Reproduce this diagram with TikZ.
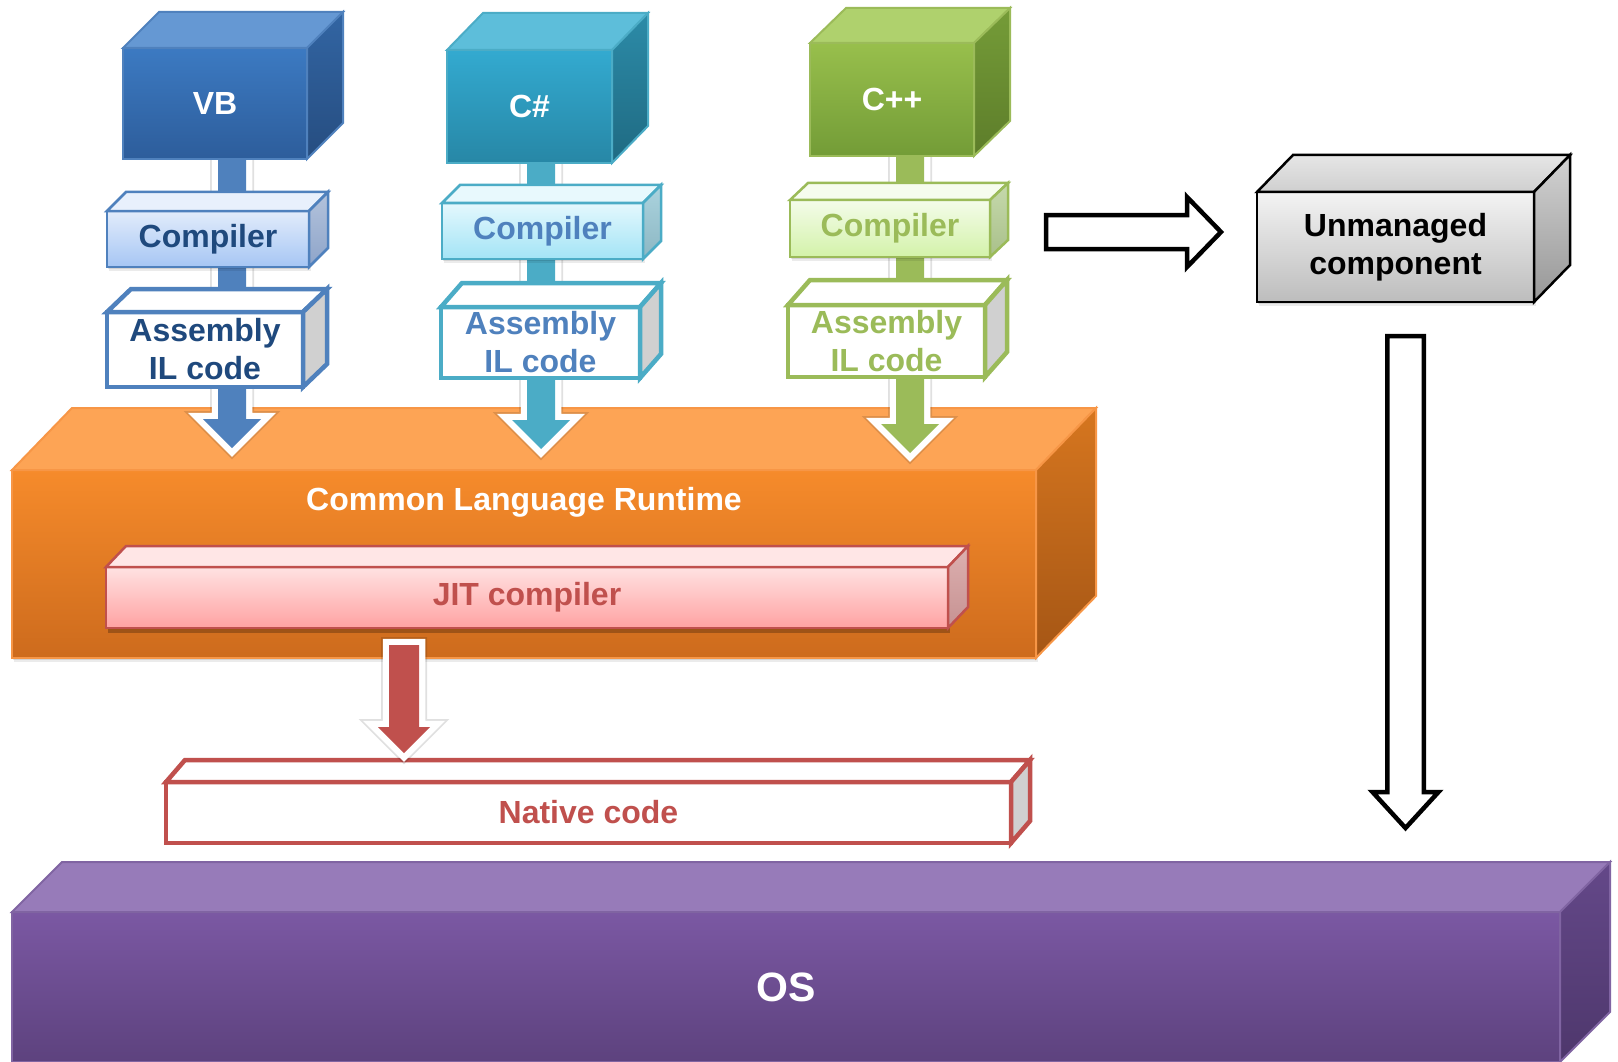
\documentclass[tikz,border=0pt]{standalone}
\usepackage{fontspec}
\setmainfont{Liberation Sans}
\usetikzlibrary{calc,shadows}

% palette
\definecolor{vbedge}{HTML}{4F81BD}\definecolor{vbtop}{HTML}{3C7AC2}\definecolor{vbbot}{HTML}{2D5D9B}
\definecolor{vbface}{HTML}{6598D3}\definecolor{vbsidea}{HTML}{3265A3}\definecolor{vbsideb}{HTML}{264D80}
\definecolor{vbtext}{HTML}{1F497D}
\definecolor{csedge}{HTML}{4BACC6}\definecolor{cstop}{HTML}{33AAD0}\definecolor{csbot}{HTML}{2787A6}
\definecolor{csface}{HTML}{5DBEDA}\definecolor{cssidea}{HTML}{2C8BA8}\definecolor{cssideb}{HTML}{1F6A82}
\definecolor{cstext}{HTML}{4F81BD}
\definecolor{cpedge}{HTML}{9BBB59}\definecolor{cptop}{HTML}{98BF4C}\definecolor{cpbot}{HTML}{739C37}
\definecolor{cpface}{HTML}{AFD16D}\definecolor{cpsidea}{HTML}{759C38}\definecolor{cpsideb}{HTML}{5D7D2A}
\definecolor{cptext}{HTML}{9BBB59}
\definecolor{vbctop}{HTML}{E2ECFB}\definecolor{vbcbot}{HTML}{A6C6F4}\definecolor{vbcface}{HTML}{E8F0FC}
\definecolor{vbcsidea}{HTML}{B3C3DC}\definecolor{vbcsideb}{HTML}{8EA4C9}
\definecolor{csctop}{HTML}{E4F8FD}\definecolor{cscbot}{HTML}{A3E4F6}\definecolor{cscface}{HTML}{E8F9FD}
\definecolor{cscsidea}{HTML}{ABD3DE}\definecolor{cscsideb}{HTML}{8CB7C3}
\definecolor{cpctop}{HTML}{F4FCEA}\definecolor{cpcbot}{HTML}{D3F2A9}\definecolor{cpcface}{HTML}{F6FCEE}
\definecolor{cpcsidea}{HTML}{C6D9AC}\definecolor{cpcsideb}{HTML}{A9C08A}
\definecolor{asmside}{HTML}{D0D0D0}
\definecolor{umtop}{HTML}{F3F3F3}\definecolor{umbot}{HTML}{BDBDBD}\definecolor{umface}{HTML}{E6E6E6}
\definecolor{umsidea}{HTML}{D2D2D2}\definecolor{umsideb}{HTML}{979797}
\definecolor{clrtop}{HTML}{F68B2B}\definecolor{clrbot}{HTML}{CD6B1D}\definecolor{clrface}{HTML}{FDA455}
\definecolor{clrsidea}{HTML}{D6761F}\definecolor{clrsideb}{HTML}{A55615}\definecolor{clredge}{HTML}{F79646}
\definecolor{jittop}{HTML}{FFE2E2}\definecolor{jitbot}{HTML}{FFA2A2}\definecolor{jitface}{HTML}{FFE6E6}
\definecolor{jitsidea}{HTML}{DDB0B0}\definecolor{jitsideb}{HTML}{C69292}\definecolor{redline}{HTML}{C0504D}
\definecolor{ostop}{HTML}{7B58A3}\definecolor{osbot}{HTML}{5D427E}\definecolor{osface}{HTML}{977BB9}
\definecolor{ossidea}{HTML}{644889}\definecolor{ossideb}{HTML}{4E376C}\definecolor{osedge}{HTML}{8064A2}

\pgfdeclarelayer{back}
\pgfdeclarelayer{mid}
\pgfsetlayers{back,mid,main}

% top and right faces of a box whose front face is node #1, depth (#2 right, #3 up)
\newcommand\cubefaces[5]{%
  \path[#4] (#1.north west) -- ++(#2,-#3) -- ([shift={(#2,-#3)}]#1.north east) -- (#1.north east) -- cycle;
  \path[#5] (#1.north east) -- ++(#2,-#3) -- ([shift={(#2,-#3)}]#1.south east) -- (#1.south east) -- cycle;
}
% downward block arrow outline: start, tip, half shaft, half head, head length
\newcommand\downpath[5]{($(#1)+(-#3,0)$) -- ($(#2)+(-#3,-#5)$) -- ($(#2)+(-#4,-#5)$) -- (#2) -- ($(#2)+(#4,-#5)$) -- ($(#2)+(#3,-#5)$) -- ($(#1)+(#3,0)$) -- cycle}
% rightward block arrow outline
\newcommand\rightpath[5]{($(#1)+(0,-#3)$) -- ($(#2)+(-#5,-#3)$) -- ($(#2)+(-#5,-#4)$) -- (#2) -- ($(#2)+(-#5,#4)$) -- ($(#2)+(-#5,#3)$) -- ($(#1)+(0,#3)$) -- cycle}

\tikzset{
  front/.style={rectangle, inner sep=0pt, outer sep=0pt, anchor=north west, align=center,
    font=\fontsize{32}{38}\selectfont\bfseries, line join=miter},
  lang/.style={front, text=white, line width=2pt},
  comp/.style={front, line width=2.5pt},
  asm/.style={front, line width=4.5pt, fill=white},
  softshadow/.style={drop shadow={shadow xshift=2pt, shadow yshift=-4pt, opacity=0.08, fill=black},
                     drop shadow={shadow xshift=1pt, shadow yshift=-2pt, opacity=0.10, fill=black}},
  arrglow/.style={draw=black, draw opacity=0.12, line width=16pt, line join=miter},
  arredge/.style={draw=white, line width=12.5pt, line join=miter},
  outline arrow/.style={draw=black, line width=4.5pt, line join=miter, fill=white},
}

\begin{document}
\begin{tikzpicture}[x=1pt,y=-1pt]
\useasboundingbox (0,0) rectangle (1618,1062);

\begin{pgfonlayer}{back}
  \fill[white] (0,0) rectangle (1618,1062);
  % Common Language Runtime
  \node[front, draw=clredge, line width=2pt, top color=clrtop, bottom color=clrbot, softshadow,
        minimum width=1024pt, minimum height=188pt] (clr) at (12,470) {};
  \cubefaces{clr}{60}{62}{draw=clredge,line width=2pt,fill=clrface}{draw=clredge,line width=2pt,top color=clrsidea,bottom color=clrsideb}
  \node[font=\fontsize{32}{38}\selectfont\bfseries, text=white] (clrtxt) at ($(clr.north)+(0,32)$) {Common Language Runtime};
  % JIT compiler
  \node[comp, draw=redline, top color=jittop, bottom color=jitbot, text=redline,
        drop shadow={shadow xshift=2pt, shadow yshift=-5pt, opacity=0.25, fill=black},
        minimum width=842pt, minimum height=61pt] (jit) at (106,567) {JIT compiler};
  \cubefaces{jit}{20}{21}{draw=redline,line width=2.5pt,fill=jitface}{draw=redline,line width=2.5pt,top color=jitsidea,bottom color=jitsideb}
  % native code
  \node[asm, draw=redline, text=redline, minimum width=845pt, minimum height=61pt] (native) at (166,782) {Native code};
  \cubefaces{native}{19}{22}{draw=redline,line width=4.5pt,fill=white}{draw=redline,line width=4.5pt,fill=asmside}
  % operating system
  \node[front, draw=osedge, line width=2pt, top color=ostop, bottom color=osbot, text=white,
        font=\fontsize{41}{48}\selectfont\bfseries, minimum width=1548pt, minimum height=150pt] (os) at (12,912) {OS};
  \cubefaces{os}{50}{50}{draw=osedge,line width=2pt,fill=osface}{draw=osedge,line width=2pt,top color=ossidea,bottom color=ossideb}
\end{pgfonlayer}

% languages
\node[lang, draw=vbedge, top color=vbtop, bottom color=vbbot, minimum width=184pt, minimum height=111pt] (vb) at (123,48) {VB};
\cubefaces{vb}{36}{36}{draw=vbedge,line width=2pt,fill=vbface}{draw=vbedge,line width=2pt,top color=vbsidea,bottom color=vbsideb}
\node[lang, draw=csedge, top color=cstop, bottom color=csbot, minimum width=165pt, minimum height=113pt] (cs) at (447,50) {C\#};
\cubefaces{cs}{36}{37}{draw=csedge,line width=2pt,fill=csface}{draw=csedge,line width=2pt,top color=cssidea,bottom color=cssideb}
\node[lang, draw=cpedge, top color=cptop, bottom color=cpbot, minimum width=164pt, minimum height=113pt] (cpp) at (810,43) {C++};
\cubefaces{cpp}{36}{35}{draw=cpedge,line width=2pt,fill=cpface}{draw=cpedge,line width=2pt,top color=cpsidea,bottom color=cpsideb}

% compilers
\node[comp, draw=vbedge, top color=vbctop, bottom color=vbcbot, text=vbtext, softshadow,
      minimum width=202pt, minimum height=56pt] (vbcomp) at (107,211) {Compiler};
\cubefaces{vbcomp}{19}{19}{draw=vbedge,line width=2.5pt,fill=vbcface}{draw=vbedge,line width=2.5pt,top color=vbcsidea,bottom color=vbcsideb}
\node[comp, draw=csedge, top color=csctop, bottom color=cscbot, text=cstext, softshadow,
      minimum width=201pt, minimum height=56pt] (cscomp) at (442,203) {Compiler};
\cubefaces{cscomp}{18}{18}{draw=csedge,line width=2.5pt,fill=cscface}{draw=csedge,line width=2.5pt,top color=cscsidea,bottom color=cscsideb}
\node[comp, draw=cpedge, top color=cpctop, bottom color=cpcbot, text=cptext, softshadow,
      minimum width=200pt, minimum height=57pt] (cppcomp) at (790,200) {Compiler};
\cubefaces{cppcomp}{18}{17}{draw=cpedge,line width=2.5pt,fill=cpcface}{draw=cpedge,line width=2.5pt,top color=cpcsidea,bottom color=cpcsideb}

% assemblies
\node[asm, draw=vbedge, text=vbtext, minimum width=196pt, minimum height=75pt] (vbasm) at (107,312) {Assembly\\IL code};
\cubefaces{vbasm}{24}{23}{draw=vbedge,line width=4.5pt,fill=white}{draw=vbedge,line width=4.5pt,fill=asmside}
\node[asm, draw=csedge, text=cstext, minimum width=199pt, minimum height=71pt] (csasm) at (441,307) {Assembly\\IL code};
\cubefaces{csasm}{21}{24}{draw=csedge,line width=4.5pt,fill=white}{draw=csedge,line width=4.5pt,fill=asmside}
\node[asm, draw=cpedge, text=cptext, minimum width=197pt, minimum height=72pt] (cppasm) at (788,305) {Assembly\\IL code};
\cubefaces{cppasm}{22}{25}{draw=cpedge,line width=4.5pt,fill=white}{draw=cpedge,line width=4.5pt,fill=asmside}

% unmanaged component
\node[comp, draw=black, top color=umtop, bottom color=umbot, text=black, softshadow,
      minimum width=277pt, minimum height=110pt] (um) at (1257,192) {Unmanaged\\component};
\cubefaces{um}{36}{37}{draw=black,line width=2.5pt,top color=umface,bottom color=umface!90!black}{draw=black,line width=2.5pt,top color=umsidea,bottom color=umsideb}

% flow arrows
\coordinate (vbtip) at (232,448);
\coordinate (cstip) at (541,449);
\coordinate (cpptip) at (910,453);
\coordinate (jittip) at (404,753);
\coordinate (vbstart) at (vbtip |- vb.south);
\coordinate (csstart) at (cstip |- cs.south);
\coordinate (cppstart) at (cpptip |- cpp.south);
\coordinate (jitstart) at ($(jittip |- jit.south)+(0,17)$);
\coordinate (ratip) at ($(um.west)+(-36,-15)$);
\coordinate (rastart) at ($(ratip -| cppcomp.east)+(56,0)$);
\coordinate (datop) at ($(um.south)+(10,34)$);
\coordinate (datip) at ($(datop |- os.north)+(0,-84)$);

\begin{pgfonlayer}{mid}
  \path[arrglow] \downpath{vbstart}{vbtip}{14}{29}{29};
  \path[arredge] \downpath{vbstart}{vbtip}{14}{29}{29};
  \fill[vbedge] \downpath{vbstart}{vbtip}{14}{29}{29};
  \path[arrglow] \downpath{csstart}{cstip}{14}{29}{29};
  \path[arredge] \downpath{csstart}{cstip}{14}{29}{29};
  \fill[csedge] \downpath{csstart}{cstip}{14}{29}{29};
  \path[arrglow] \downpath{cppstart}{cpptip}{14}{29}{29};
  \path[arredge] \downpath{cppstart}{cpptip}{14}{29}{29};
  \fill[cpedge] \downpath{cppstart}{cpptip}{14}{29}{29};
  \path[arrglow] \downpath{jitstart}{jittip}{15}{26}{26};
  \path[arredge] \downpath{jitstart}{jittip}{15}{26}{26};
  \fill[redline] \downpath{jitstart}{jittip}{15}{26}{26};
\end{pgfonlayer}

\path[outline arrow] \rightpath{rastart}{ratip}{17}{35}{34};
\path[outline arrow] \downpath{datop}{datip}{18.25}{33}{36};
\end{tikzpicture}
\end{document}
